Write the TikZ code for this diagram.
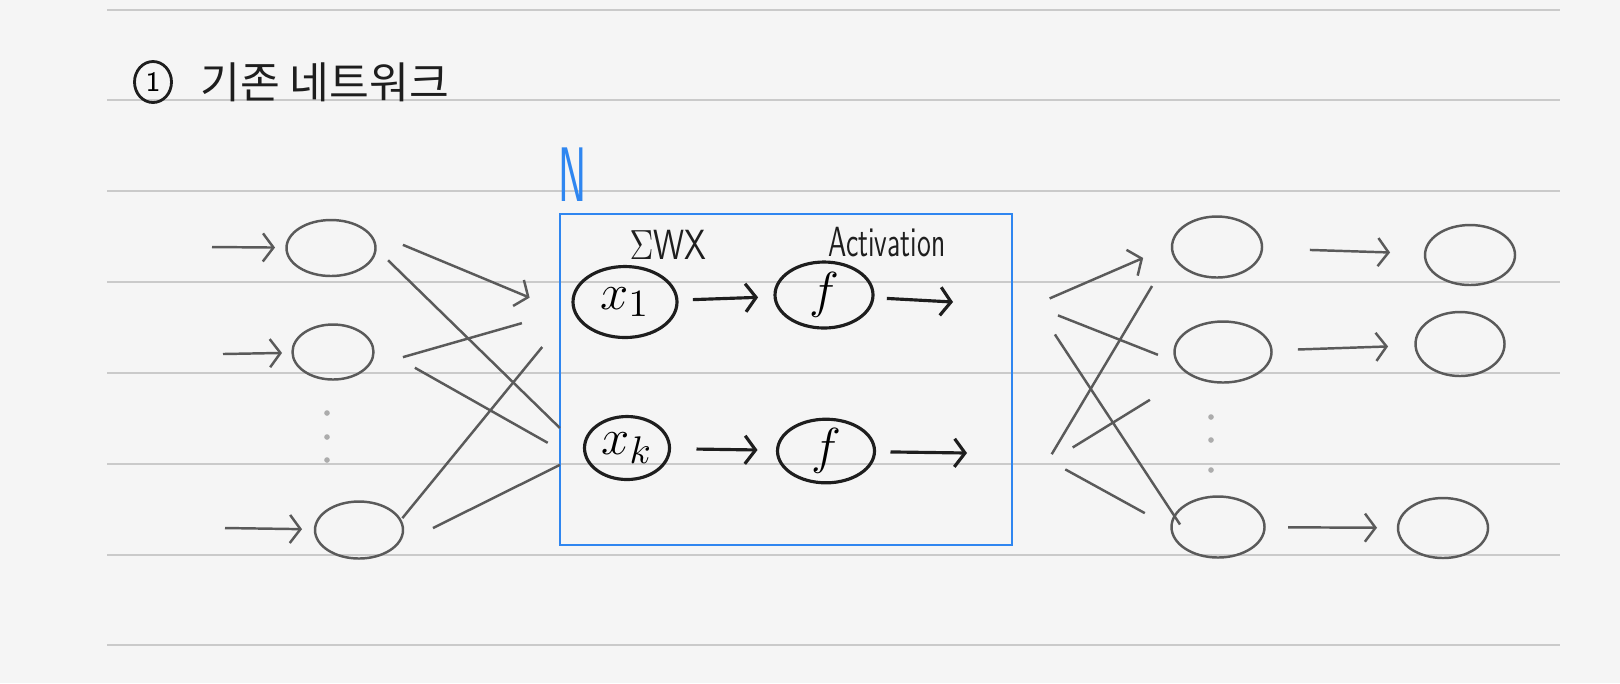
\documentclass[tikz,border=0pt]{standalone}
\usepackage{fontspec}
\usepackage{graphicx}
\usetikzlibrary{shapes.geometric}
\usetikzlibrary{positioning}
\usetikzlibrary{arrows.meta}
\newfontfamily\korfont{Noto Sans CJK KR}
\definecolor{paper}{HTML}{F5F5F5}
\definecolor{rule}{HTML}{CACACA}
\definecolor{pencil}{HTML}{5A5A5A}
\definecolor{ink}{HTML}{1E1E1E}
\definecolor{penblue}{HTML}{2F86F0}

\begin{document}
\begin{tikzpicture}
	[>={Straight Barb[length=3pt,width=8pt]},
	unit/.style = {draw=pencil, ellipse, line width=0.7pt, minimum width=0.9cm, minimum height=0.6cm, inner sep=0pt, outer sep=0pt},
	cell/.style = {draw=ink, ellipse, line width=0.9pt, minimum width=1cm, minimum height=0.66cm, inner sep=0pt, outer sep=0pt, font=\fontsize{15}{15}\selectfont},
	netbox/.style = {draw=penblue, line width=0.8pt, minimum width=4.52cm, minimum height=3.31cm, inner sep=0pt, outer sep=0pt},
	wire/.style = {pencil, line width=0.7pt},
	flow/.style = {->, ink, line width=0.9pt},
	lbl/.style = {ink, inner sep=0pt, font=\sffamily\fontsize{12}{12}\selectfont}]
	\useasboundingbox (0,0) rectangle (16.2,-6.83);
	\fill[paper] (0,0) rectangle (16.2,-6.83);
	\foreach \yy in {0.10,1.00,1.91,2.82,3.73,4.64,5.55,6.45}
		\draw[rule, line width=0.6pt] (1.07,-\yy) -- (15.6,-\yy);
	\node[draw=ink, ellipse, line width=0.8pt, minimum width=0.37cm, minimum height=0.41cm, inner sep=0pt, font=\sffamily\footnotesize] (num) at (1.53,-0.82) {1};
	\node[right=0.27cm of num, inner sep=0pt, ink, font=\korfont\fontsize{12.3}{12.3}\selectfont] (title) {기존 네트워크};
	\node[unit, minimum width=0.89cm, minimum height=0.56cm] (i1) at (3.31,-2.48) {};
	\node[unit, minimum width=0.81cm, minimum height=0.55cm] (i2) at (3.33,-3.52) {};
	\node[unit, minimum width=0.88cm, minimum height=0.57cm] (i3) at (3.59,-5.30) {};
	\node[netbox] (nbox) at (7.86,-3.795) {};
	\node[cell, minimum width=1.04cm, minimum height=0.71cm] (x1) at (6.25,-3.02) {$x_1$};
	\node[cell, minimum width=0.98cm] (f1) at (8.24,-2.95) {$f$};
	\node[cell, minimum width=0.85cm, minimum height=0.63cm] (xk) at (6.27,-4.48) {$x_k$};
	\node[cell, minimum width=0.97cm, minimum height=0.62cm] (fk) at (8.26,-4.51) {$f$};
	\node[unit, minimum height=0.61cm] (h1) at (12.17,-2.47) {};
	\node[unit, minimum width=0.97cm, minimum height=0.61cm] (h2) at (12.23,-3.52) {};
	\node[unit, minimum width=0.93cm, minimum height=0.61cm] (h3) at (12.18,-5.27) {};
	\node[unit] (y1) at (14.70,-2.55) {};
	\node[unit, minimum width=0.89cm, minimum height=0.64cm] (y2) at (14.60,-3.44) {};
	\node[unit] (y3) at (14.43,-5.28) {};
	\node[lbl, above=0.06cm of x1, xshift=0.43cm] (sumlbl) {\scalebox{0.8}[1]{$\Sigma$WX}};
	\node[lbl, above=0.04cm of f1, xshift=0.63cm] (actlbl) {\scalebox{0.67}[1]{Activation}};
	\node[lbl, penblue, above right=0.12cm and -0.02cm of nbox.north west, font=\sffamily\fontsize{22}{22}\selectfont] (nlbl) {\scalebox{0.55}[1]{N}};
	\coordinate (in1) at (2.12,-2.47);
	\coordinate (in2) at (2.23,-3.54);
	\coordinate (in3) at (2.25,-5.28);
	\coordinate (o1) at (9.53,-3.02);
	\coordinate (o2) at (9.67,-4.53);
	\foreach \yy in {4.13,4.37,4.60}
		\fill[pencil!50] (3.27,-\yy) circle (0.8pt);
	\foreach \yy in {4.17,4.40,4.70}
		\fill[pencil!50] (12.11,-\yy) circle (0.8pt);
	\draw[wire, ->, shorten >=0.115cm] (in1) -- (i1);
	\draw[wire, ->, shorten >=0.105cm] (in2) -- (i2);
	\draw[wire, ->, shorten >=0.13cm] (in3) -- (i3);
	\draw[wire, ->, shorten <=0.45cm, shorten >=0.53cm] (i1.34) -- (x1.199);
	\draw[wire, shorten <=0.175cm, shorten >=0.35cm] (i1.0) -- (xk.186);
	\draw[wire, shorten <=0.38cm, shorten >=0.54cm] (i2.335) -- (x1.187);
	\draw[wire, shorten <=0.50cm, shorten >=0.62cm] (i2.13) -- (xk.225);
	\draw[wire, shorten <=0.03cm, shorten >=0.50cm] (i3.13) -- (x1.187);
	\draw[wire, shorten <=0.44cm, shorten >=0.28cm] (i3.333) -- (xk.186);
	\draw[flow, shorten <=0.16cm, shorten >=0.17cm] (x1) -- (f1);
	\draw[flow, shorten <=0.14cm] (f1) -- (o1);
	\draw[flow, shorten <=0.27cm, shorten >=0.20cm] (xk) -- (fk);
	\draw[flow, shorten <=0.16cm] (fk) -- (o2);
	\draw[wire, ->, shorten <=0.41cm, shorten >=0.315cm] (nbox.16) -- (h1.178);
	\draw[wire, shorten <=0.775cm, shorten >=0.40cm] (nbox.328) -- (h1.186);
	\draw[wire, shorten <=0.494cm, shorten >=0.21cm] (nbox.20) -- (h2.193);
	\draw[wire, shorten <=0.78cm, shorten >=-0.1cm] (nbox.26) -- (h3.166);
	\draw[wire, shorten <=0.713cm, shorten >=0.478cm] (nbox.335) -- (h2.215);
	\draw[wire, shorten <=0.608cm, shorten >=0.305cm] (nbox.345) -- (h3.181);
	\draw[wire, ->, shorten <=0.48cm, shorten >=0.35cm] (h1) -- (y1);
	\draw[wire, ->, shorten <=0.265cm, shorten >=0.275cm] (h2) -- (y2);
	\draw[wire, ->, shorten <=0.235cm, shorten >=0.21cm] (h3) -- (y3);
\end{tikzpicture}
\end{document}
